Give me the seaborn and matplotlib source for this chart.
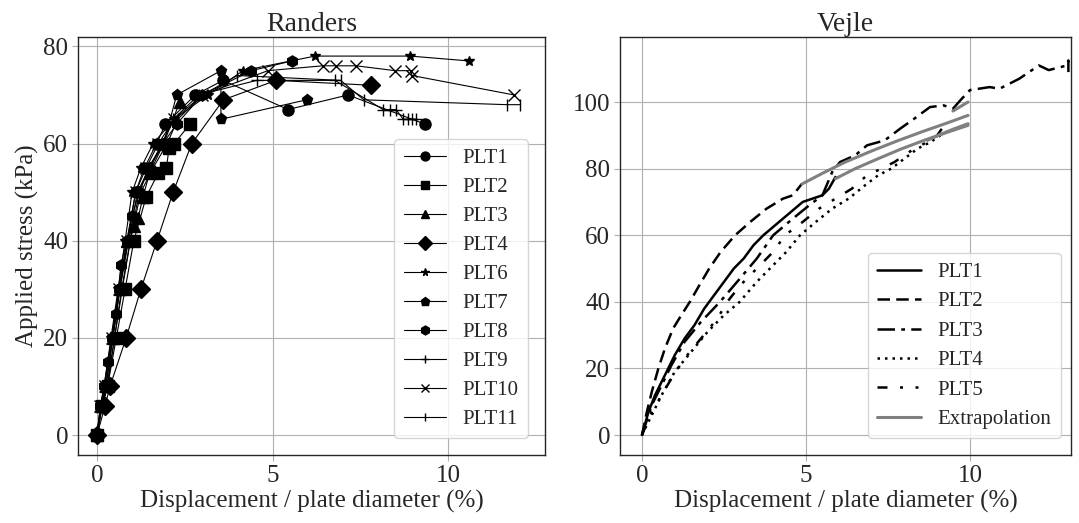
import pandas as pd
import matplotlib
matplotlib.use("Agg")
import matplotlib.pyplot as plt
from matplotlib import font_manager
import seaborn as sns

# ---- Randers plate load tests (displacement %, stress kPa) ----
randers_names = ['PLT1', 'PLT2', 'PLT3', 'PLT4', 'PLT6', 'PLT7', 'PLT8', 'PLT9', 'PLT10', 'PLT11']
randers_markers = ['o', 's', '^', 'D', '*', 'p', 'h', '+', 'x', '|']

plt1_x = [0, 0.12, 0.25, 0.45, 0.65, 0.88, 1.1, 1.35, 1.7, 1.95, 2.8, 3.59, 5.44, 7.15, 9.34]
plt1_y = [0, 6, 10, 20, 30, 40, 50, 55, 60, 64, 70, 73, 67, 70, 64]
plt2_x = [0, 0.15, 0.3, 0.55, 0.8, 1.05, 1.4, 1.75, 1.98, 2.05, 2.2, 2.65]
plt2_y = [0, 6, 10, 20, 30, 40, 49, 54, 55, 59, 60, 64]
plt3_x = [0, 0.12, 0.25, 0.45, 0.65, 0.85, 1.05, 1.17, 1.31, 1.5, 1.9, 2.36]
plt3_y = [0, 6, 10, 20, 30, 40, 43, 44.6, 49, 54, 60, 68.6]
plt4_x = [0, 0.23, 0.37, 0.83, 1.25, 1.71, 2.17, 2.7, 3.6, 5.1, 7.8]
plt4_y = [0, 6, 10, 20, 30, 40, 50, 60, 69, 73, 72]
plt6_x = [0, 0.1, 0.2, 0.4, 0.6, 0.8, 1.0, 1.25, 1.6, 2.2, 3.16, 4.16, 6.21, 8.92, 10.6]
plt6_y = [0, 6, 10, 20, 30, 40, 50, 55, 60, 65, 70, 75, 78, 78, 77]
plt7_x = [0, 0.12, 0.25, 0.45, 0.65, 0.9, 1.15, 1.5, 1.9, 2.27, 3.53, 3.53, 5.97]
plt7_y = [0, 6, 10, 20, 30, 40, 50, 55, 60, 70, 75, 65, 69]
plt8_x = [0, 0.1, 0.2, 0.31, 0.42, 0.54, 0.62, 0.68, 0.85, 1.0, 1.2, 1.46, 1.88, 2.27, 3.0, 4.4, 5.55]
plt8_y = [0, 6, 10, 15, 20, 25, 30, 35, 40, 45, 50, 55, 60, 64, 70, 75, 77]
plt9_x = [0, 0.15, 0.3, 0.5, 0.7, 0.95, 1.2, 1.5, 1.85, 2.17, 2.9, 4.55, 6.78, 8.15, 8.35, 8.52, 8.72, 8.87, 8.97, 9.1]
plt9_y = [0, 6, 10, 20, 30, 40, 50, 55, 60, 65, 70, 73, 73, 67, 67, 67, 65, 65, 65, 65]
plt10_x = [0, 0.1, 0.22, 0.42, 0.62, 0.85, 1.1, 1.4, 1.75, 2.2, 3.0, 4.87, 6.43, 6.81, 7.38, 8.49, 8.94, 8.97, 11.88]
plt10_y = [0, 6, 10, 20, 30, 40, 50, 55, 60, 65, 70, 75, 76, 76, 76, 75, 75, 74, 70]
plt11_x = [0, 0.14, 0.28, 0.5, 0.72, 0.95, 1.25, 1.6, 2.0, 2.3, 3.0, 4.0, 6.94, 7.6, 11.67, 12.05]
plt11_y = [0, 6, 10, 20, 30, 40, 50, 55, 60, 65, 70, 74, 73, 69, 68, 68]

randers_x = [plt1_x, plt2_x, plt3_x, plt4_x, plt6_x, plt7_x, plt8_x, plt9_x, plt10_x, plt11_x]
randers_y = [plt1_y, plt2_y, plt3_y, plt4_y, plt6_y, plt7_y, plt8_y, plt9_y, plt10_y, plt11_y]

# ---- Vejle plate load tests ----
v1_x = [0, 0.2, 0.4, 0.6, 0.8, 1.0, 1.3, 1.6, 1.9, 2.2, 2.5, 2.8, 3.1, 3.4, 3.7, 4.0, 4.3, 4.6, 4.9, 5.2, 5.5, 5.7, 5.9]
v1_y = [0, 7, 12, 16, 20, 24, 29, 33, 38, 42, 46, 50, 53, 57, 60, 62.5, 65, 67.5, 70, 71, 72, 74, 77.5]
v2_x = [0, 0.15, 0.3, 0.5, 0.7, 0.95, 1.2, 1.46, 1.75, 2.05, 2.4, 2.84, 3.3, 3.8, 4.3, 4.6, 4.88]
v2_y = [0, 7, 13, 20, 26, 32, 36, 40, 45, 50, 55, 60, 64, 68, 71, 72, 75.5]
v3_x = [0, 0.3, 0.6, 0.9, 1.3, 1.8, 2.38, 2.9, 3.5, 4.0, 4.6, 5.1, 5.5, 5.8, 6.04, 6.5, 6.86, 7.4, 7.87,
        8.3, 8.78, 9.2, 9.48, 9.75, 10.0, 10.6, 10.9, 11.5, 12.1, 12.4, 12.96, 13.0, 13.0]
v3_y = [0, 9, 15, 21, 28, 34, 40, 46, 53, 60, 65, 69, 72, 79, 82, 84, 87, 88.5, 92,
        95, 98.5, 99, 98, 101, 103.6, 104.5, 104, 107, 111, 109.6, 111, 112.5, 109]
v4_x = [0, 0.3, 0.6, 1.0, 1.5, 2.0, 2.5, 2.98, 3.5, 4.0, 4.4, 4.82, 5.3, 5.8, 6.3, 6.8, 7.2, 7.6, 8.0, 8.4, 8.8, 9.1]
v4_y = [0, 6, 12, 19, 25, 31, 36, 40, 46, 51, 55, 60, 64, 68, 71, 75, 78, 80, 83, 86, 88, 90]
v5_x = [0, 0.3, 0.6, 0.9, 1.3, 1.8, 2.3, 2.6, 3.0, 3.5, 4.0, 4.36, 4.9, 5.4, 5.9, 6.4, 6.86, 7.3, 7.7, 8.0, 8.3, 8.7, 9.0, 9.33]
v5_y = [0, 7, 12, 17, 23, 29, 35, 40, 45, 50, 55, 60, 64, 68, 71, 74, 78, 80, 82, 84, 86, 88, 90, 94.6]

vejle_names = ['PLT1', 'PLT2', 'PLT3', 'PLT4', 'PLT5']
vejle_x = [v1_x, v2_x, v3_x, v4_x, v5_x]
vejle_y = [v1_y, v2_y, v3_y, v4_y, v5_y]
vejle_styles = ['-', (0, (5, 2.5)), (0, (7, 2.5, 1.5, 2.5)), (0, (1, 2)), (0, (4, 5, 1.2, 5, 1.2, 5))]

# extrapolations (gray)
ext_x = [[4.88, 5.5, 6.2, 7.0, 7.8, 8.6, 9.3, 9.94],
         [5.9, 6.5, 7.2, 7.9, 8.6, 9.3, 9.94],
         [8.7, 9.1, 9.5, 9.94],
         [9.48, 9.7, 9.94]]
ext_y = [[75.4, 78.6, 82.0, 85.3, 88.4, 91.3, 93.7, 96.0],
         [77.0, 80.0, 83.0, 85.9, 88.5, 90.9, 93.0],
         [88.5, 90.3, 91.9, 93.5],
         [97.3, 98.6, 100.0]]

sns.set_theme(style="whitegrid")

# Times-like serif
serif_name = 'DejaVu Serif'
for f in font_manager.findSystemFonts():
    if 'LiberationSerif-Regular' in f:
        font_manager.fontManager.addfont(f)
        serif_name = font_manager.FontProperties(fname=f).get_name()
        break
plt.rcParams['font.family'] = [serif_name, 'DejaVu Serif']

fig = plt.figure(figsize=(10.79, 5.23), dpi=100)
ax1 = fig.add_axes([0.0723, 0.130, 0.4328, 0.799])
ax2 = fig.add_axes([0.5746, 0.130, 0.4180, 0.799])

for ax in (ax1, ax2):
    ax.grid(True, color='#b0b0b0', lw=0.8)
    for s in ax.spines.values():
        s.set_color('#262626')
        s.set_linewidth(1.0)
    ax.tick_params(axis='both', which='both', length=4, width=0.8, color='#b0b0b0',
                   labelsize=18, pad=3, direction='out', bottom=True, left=True)

# Randers
for name, mk, xs, ys in zip(randers_names, randers_markers, randers_x, randers_y):
    d = pd.DataFrame({'x': xs, 'y': ys})
    ms = {'*': 7, 'D': 9}.get(mk, 8)
    sns.lineplot(data=d, x='x', y='y', ax=ax1, sort=False, estimator=None, color='black',
                 lw=0.8, marker=mk, markersize=ms, markeredgecolor='black',
                 markeredgewidth=1.0, label=name)

ax1.set_xlim(-0.54, 12.76)
ax1.set_ylim(-4.1, 81.9)
ax1.set_xticks([0, 5, 10])
ax1.set_yticks([0, 20, 40, 60, 80])
ax1.set_title('Randers', fontsize=20, pad=4)
ax1.set_xlabel('Displacement / plate diameter (%)', fontsize=18, labelpad=2)
ax1.set_ylabel('Applied stress (kPa)', fontsize=18, labelpad=3)
leg1 = ax1.legend(loc='lower right', fontsize=15, handlelength=2.0, labelspacing=0.45,
                  borderpad=0.45, markerscale=0.8, frameon=True, fancybox=True,
                  bbox_to_anchor=(0.985, 0.015))
leg1.get_frame().set_edgecolor('#cccccc')

# Vejle
for name, ls, xs, ys in zip(vejle_names, vejle_styles, vejle_x, vejle_y):
    d = pd.DataFrame({'x': xs, 'y': ys})
    sns.lineplot(data=d, x='x', y='y', ax=ax2, sort=False, estimator=None, color='black',
                 lw=1.8, linestyle=ls, label=name)

for i, (xs, ys) in enumerate(zip(ext_x, ext_y)):
    d = pd.DataFrame({'x': xs, 'y': ys})
    sns.lineplot(data=d, x='x', y='y', ax=ax2, sort=False, estimator=None, color='#808080',
                 lw=2.2, label='Extrapolation' if i == 0 else None)

ax2.set_xlim(-0.67, 13.08)
ax2.set_ylim(-6.0, 119.5)
ax2.set_xticks([0, 5, 10])
ax2.set_yticks([0, 20, 40, 60, 80, 100])
ax2.set_title('Vejle', fontsize=20, pad=4)
ax2.set_xlabel('Displacement / plate diameter (%)', fontsize=18, labelpad=2)
ax2.set_ylabel('')
leg2 = ax2.legend(loc='lower right', fontsize=15, handlelength=2.1, labelspacing=0.47,
                  borderpad=0.45, frameon=True, fancybox=True, bbox_to_anchor=(1.0, 0.015))
leg2.get_frame().set_edgecolor('#cccccc')

fig.savefig('out.png', dpi=100)
